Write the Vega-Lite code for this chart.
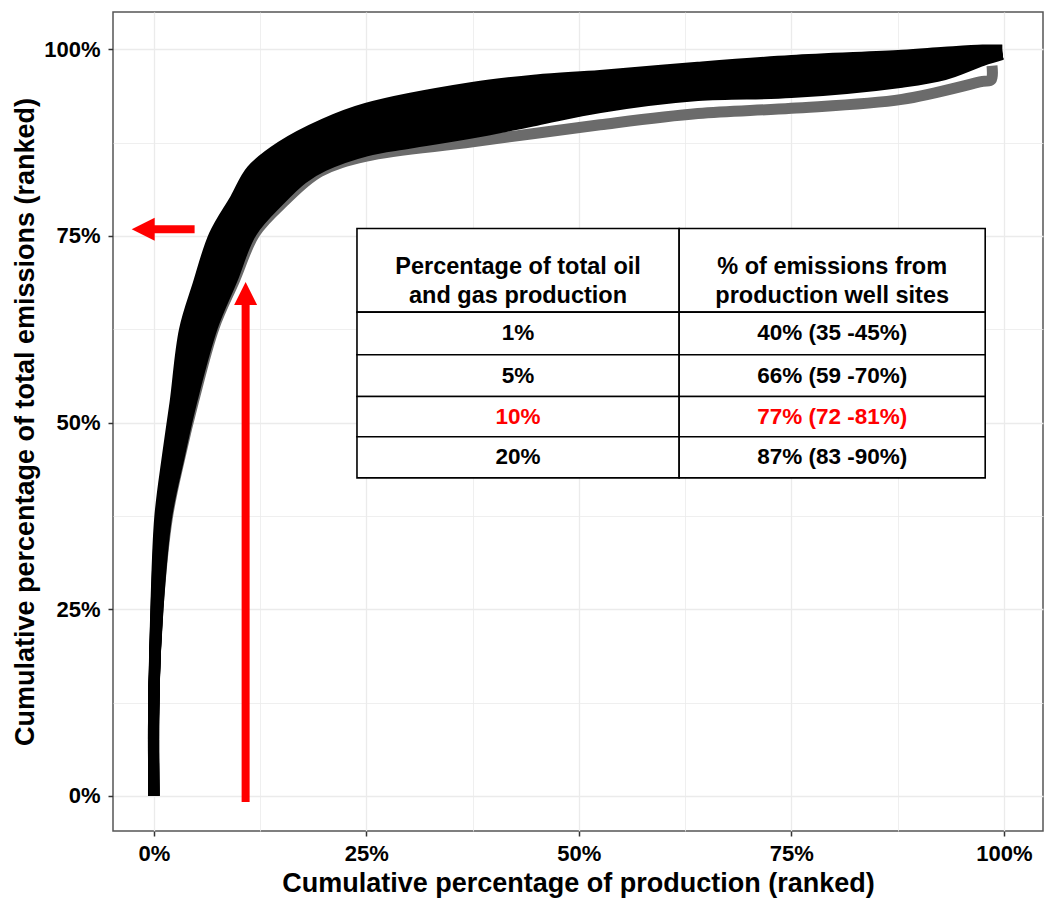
{
  "$schema": "https://vega.github.io/schema/vega-lite/v6.json",
  "width": 930,
  "height": 819,
  "autosize": {"type": "none"},
  "padding": {"left": 113, "top": 12, "right": 2, "bottom": 69},
  "background": "white",
  "config": {
    "view": {"stroke": "#555555", "strokeWidth": 1.5},
    "font": "Liberation Sans"
  },
  "datasets": {
    "curves": [
      {"c": "G", "x": 0, "y": 0}, {"c": "G", "x": 0, "y": 12.9}, {"c": "G", "x": 0.5, "y": 25.2}, {"c": "G", "x": 1.6, "y": 37.3}, {"c": "G", "x": 3.1, "y": 45.5}, {"c": "G", "x": 4.7, "y": 53}, {"c": "G", "x": 7.1, "y": 62.8}, {"c": "G", "x": 9.5, "y": 69.1}, {"c": "G", "x": 11.9, "y": 75.4}, {"c": "G", "x": 15.3, "y": 79.6}, {"c": "G", "x": 19.5, "y": 83.6}, {"c": "G", "x": 25, "y": 85.7}, {"c": "G", "x": 37.5, "y": 87.6}, {"c": "G", "x": 52.5, "y": 89.9}, {"c": "G", "x": 64, "y": 91.4}, {"c": "G", "x": 75, "y": 92.1}, {"c": "G", "x": 88, "y": 93.3}, {"c": "G", "x": 97.5, "y": 95.7}, {"c": "G", "x": 98.5, "y": 95.9}, {"c": "G", "x": 98.6, "y": 97.8},

      {"c": "U", "x": 0, "y": 0}, {"c": "U", "x": 0, "y": 12.9}, {"c": "U", "x": 0.24, "y": 25.2}, {"c": "U", "x": 0.7, "y": 37.3}, {"c": "U", "x": 1.6, "y": 45.5}, {"c": "U", "x": 2.5, "y": 52.7}, {"c": "U", "x": 3.6, "y": 62.4}, {"c": "U", "x": 5.2, "y": 68.5}, {"c": "U", "x": 7.1, "y": 75.1}, {"c": "U", "x": 9.6, "y": 80}, {"c": "U", "x": 11.5, "y": 83.8}, {"c": "U", "x": 15, "y": 87}, {"c": "U", "x": 20, "y": 90}, {"c": "U", "x": 25, "y": 92.1}, {"c": "U", "x": 37.5, "y": 94.9}, {"c": "U", "x": 45, "y": 95.9}, {"c": "U", "x": 52.5, "y": 96.5}, {"c": "U", "x": 64, "y": 97.6}, {"c": "U", "x": 75, "y": 98.5}, {"c": "U", "x": 88, "y": 99.2}, {"c": "U", "x": 93, "y": 99.6}, {"c": "U", "x": 97.5, "y": 99.9}, {"c": "U", "x": 99.8, "y": 99.9},

      {"c": "N1", "x": 0, "y": 0}, {"c": "N1", "x": 0, "y": 12.9}, {"c": "N1", "x": 0.27, "y": 25.2}, {"c": "N1", "x": 0.8, "y": 37.3}, {"c": "N1", "x": 1.78, "y": 45.5}, {"c": "N1", "x": 2.75, "y": 52.74}, {"c": "N1", "x": 4.01, "y": 62.45}, {"c": "N1", "x": 5.7, "y": 68.58}, {"c": "N1", "x": 7.65, "y": 75.15}, {"c": "N1", "x": 10.25, "y": 79.98}, {"c": "N1", "x": 12.25, "y": 83.66}, {"c": "N1", "x": 15.63, "y": 86.68}, {"c": "N1", "x": 20.63, "y": 89.55}, {"c": "N1", "x": 25.63, "y": 91.51}, {"c": "N1", "x": 37.5, "y": 94.14}, {"c": "N1", "x": 45, "y": 95.23}, {"c": "N1", "x": 52.5, "y": 95.96}, {"c": "N1", "x": 64, "y": 97.13}, {"c": "N1", "x": 75, "y": 97.96}, {"c": "N1", "x": 88, "y": 98.75}, {"c": "N1", "x": 93, "y": 99.23}, {"c": "N1", "x": 97.5, "y": 99.73}, {"c": "N1", "x": 99.8, "y": 99.83},

      {"c": "M1", "x": 0, "y": 0}, {"c": "M1", "x": 0, "y": 12.9}, {"c": "M1", "x": 0.31, "y": 25.2}, {"c": "M1", "x": 0.9, "y": 37.3}, {"c": "M1", "x": 1.95, "y": 45.5}, {"c": "M1", "x": 3.0, "y": 52.8}, {"c": "M1", "x": 4.4, "y": 62.5}, {"c": "M1", "x": 6.2, "y": 68.65}, {"c": "M1", "x": 8.2, "y": 75.2}, {"c": "M1", "x": 10.9, "y": 79.95}, {"c": "M1", "x": 13.0, "y": 83.5}, {"c": "M1", "x": 16.25, "y": 86.35}, {"c": "M1", "x": 21.25, "y": 89.1}, {"c": "M1", "x": 26.25, "y": 90.9}, {"c": "M1", "x": 37.5, "y": 93.4}, {"c": "M1", "x": 45, "y": 94.55}, {"c": "M1", "x": 52.5, "y": 95.4}, {"c": "M1", "x": 64, "y": 96.65}, {"c": "M1", "x": 75, "y": 97.4}, {"c": "M1", "x": 88, "y": 98.3}, {"c": "M1", "x": 93, "y": 98.85}, {"c": "M1", "x": 97.5, "y": 99.55}, {"c": "M1", "x": 99.8, "y": 99.75},

      {"c": "N2", "x": 0, "y": 0}, {"c": "N2", "x": 0, "y": 12.9}, {"c": "N2", "x": 0.34, "y": 25.2}, {"c": "N2", "x": 1.0, "y": 37.3}, {"c": "N2", "x": 2.13, "y": 45.5}, {"c": "N2", "x": 3.25, "y": 52.81}, {"c": "N2", "x": 4.84, "y": 62.55}, {"c": "N2", "x": 6.7, "y": 68.73}, {"c": "N2", "x": 8.75, "y": 75.25}, {"c": "N2", "x": 11.55, "y": 79.93}, {"c": "N2", "x": 13.75, "y": 83.39}, {"c": "N2", "x": 16.88, "y": 86.03}, {"c": "N2", "x": 21.88, "y": 88.65}, {"c": "N2", "x": 26.88, "y": 90.34}, {"c": "N2", "x": 37.5, "y": 92.61}, {"c": "N2", "x": 45, "y": 93.88}, {"c": "N2", "x": 52.5, "y": 94.89}, {"c": "N2", "x": 64, "y": 96.18}, {"c": "N2", "x": 75, "y": 96.89}, {"c": "N2", "x": 88, "y": 97.85}, {"c": "N2", "x": 93, "y": 98.48}, {"c": "N2", "x": 97.5, "y": 99.38}, {"c": "N2", "x": 99.8, "y": 99.68},

      {"c": "M2", "x": 0, "y": 0}, {"c": "M2", "x": 0, "y": 12.9}, {"c": "M2", "x": 0.37, "y": 25.2}, {"c": "M2", "x": 1.1, "y": 37.3}, {"c": "M2", "x": 2.3, "y": 45.5}, {"c": "M2", "x": 3.5, "y": 52.85}, {"c": "M2", "x": 5.25, "y": 62.6}, {"c": "M2", "x": 7.2, "y": 68.8}, {"c": "M2", "x": 9.3, "y": 75.3}, {"c": "M2", "x": 12.2, "y": 79.9}, {"c": "M2", "x": 14.5, "y": 83.25}, {"c": "M2", "x": 17.5, "y": 85.7}, {"c": "M2", "x": 22.5, "y": 88.2}, {"c": "M2", "x": 27.5, "y": 89.75}, {"c": "M2", "x": 37.5, "y": 91.85}, {"c": "M2", "x": 45, "y": 93.2}, {"c": "M2", "x": 52.5, "y": 94.35}, {"c": "M2", "x": 64, "y": 95.7}, {"c": "M2", "x": 75, "y": 96.35}, {"c": "M2", "x": 88, "y": 97.4}, {"c": "M2", "x": 93, "y": 98.1}, {"c": "M2", "x": 97.5, "y": 99.2}, {"c": "M2", "x": 99.8, "y": 99.6},

      {"c": "N3", "x": 0, "y": 0}, {"c": "N3", "x": 0, "y": 12.9}, {"c": "N3", "x": 0.4, "y": 25.2}, {"c": "N3", "x": 1.2, "y": 37.3}, {"c": "N3", "x": 2.48, "y": 45.5}, {"c": "N3", "x": 3.75, "y": 52.89}, {"c": "N3", "x": 5.66, "y": 62.65}, {"c": "N3", "x": 7.7, "y": 68.88}, {"c": "N3", "x": 9.85, "y": 75.35}, {"c": "N3", "x": 12.85, "y": 79.88}, {"c": "N3", "x": 15.25, "y": 83.11}, {"c": "N3", "x": 18.13, "y": 85.38}, {"c": "N3", "x": 23.13, "y": 87.75}, {"c": "N3", "x": 28.13, "y": 89.16}, {"c": "N3", "x": 37.5, "y": 91.09}, {"c": "N3", "x": 45, "y": 92.53}, {"c": "N3", "x": 52.5, "y": 93.81}, {"c": "N3", "x": 64, "y": 95.23}, {"c": "N3", "x": 75, "y": 95.81}, {"c": "N3", "x": 88, "y": 96.95}, {"c": "N3", "x": 93, "y": 97.73}, {"c": "N3", "x": 97.5, "y": 99.03}, {"c": "N3", "x": 99.8, "y": 99.53},

      {"c": "M3", "x": 0, "y": 0}, {"c": "M3", "x": 0, "y": 12.9}, {"c": "M3", "x": 0.44, "y": 25.2}, {"c": "M3", "x": 1.3, "y": 37.3}, {"c": "M3", "x": 2.65, "y": 45.5}, {"c": "M3", "x": 4.0, "y": 52.9}, {"c": "M3", "x": 6.1, "y": 62.7}, {"c": "M3", "x": 8.2, "y": 68.95}, {"c": "M3", "x": 10.4, "y": 75.4}, {"c": "M3", "x": 13.5, "y": 79.85}, {"c": "M3", "x": 16.0, "y": 83.0}, {"c": "M3", "x": 18.75, "y": 85.05}, {"c": "M3", "x": 23.75, "y": 87.3}, {"c": "M3", "x": 28.75, "y": 88.6}, {"c": "M3", "x": 37.5, "y": 90.3}, {"c": "M3", "x": 45, "y": 91.85}, {"c": "M3", "x": 52.5, "y": 93.3}, {"c": "M3", "x": 64, "y": 94.75}, {"c": "M3", "x": 75, "y": 95.3}, {"c": "M3", "x": 88, "y": 96.5}, {"c": "M3", "x": 93, "y": 97.35}, {"c": "M3", "x": 97.5, "y": 98.85}, {"c": "M3", "x": 99.8, "y": 99.45},

      {"c": "N4", "x": 0, "y": 0}, {"c": "N4", "x": 0, "y": 12.9}, {"c": "N4", "x": 0.47, "y": 25.2}, {"c": "N4", "x": 1.4, "y": 37.3}, {"c": "N4", "x": 2.83, "y": 45.5}, {"c": "N4", "x": 4.25, "y": 52.96}, {"c": "N4", "x": 6.49, "y": 62.75}, {"c": "N4", "x": 8.7, "y": 69.03}, {"c": "N4", "x": 10.95, "y": 75.45}, {"c": "N4", "x": 14.15, "y": 79.83}, {"c": "N4", "x": 16.75, "y": 82.84}, {"c": "N4", "x": 19.38, "y": 84.73}, {"c": "N4", "x": 24.38, "y": 86.85}, {"c": "N4", "x": 29.38, "y": 87.99}, {"c": "N4", "x": 37.5, "y": 89.56}, {"c": "N4", "x": 45, "y": 91.18}, {"c": "N4", "x": 52.5, "y": 92.74}, {"c": "N4", "x": 64, "y": 94.28}, {"c": "N4", "x": 75, "y": 94.74}, {"c": "N4", "x": 88, "y": 96.05}, {"c": "N4", "x": 93, "y": 96.98}, {"c": "N4", "x": 97.5, "y": 98.68}, {"c": "N4", "x": 99.8, "y": 99.38},

      {"c": "L", "x": 0, "y": 0}, {"c": "L", "x": 0, "y": 12.9}, {"c": "L", "x": 0.5, "y": 25.2}, {"c": "L", "x": 1.5, "y": 37.3}, {"c": "L", "x": 3.0, "y": 45.5}, {"c": "L", "x": 4.5, "y": 53}, {"c": "L", "x": 6.9, "y": 62.8}, {"c": "L", "x": 9.2, "y": 69.1}, {"c": "L", "x": 11.5, "y": 75.5}, {"c": "L", "x": 14.8, "y": 79.8}, {"c": "L", "x": 17.5, "y": 82.7}, {"c": "L", "x": 20, "y": 84.4}, {"c": "L", "x": 25, "y": 86.4}, {"c": "L", "x": 30, "y": 87.4}, {"c": "L", "x": 37.5, "y": 88.8}, {"c": "L", "x": 45, "y": 90.5}, {"c": "L", "x": 52.5, "y": 92.2}, {"c": "L", "x": 64, "y": 93.8}, {"c": "L", "x": 75, "y": 94.2}, {"c": "L", "x": 88, "y": 95.6}, {"c": "L", "x": 93, "y": 96.6}, {"c": "L", "x": 97.5, "y": 98.5}, {"c": "L", "x": 99.8, "y": 99.3}
    ],
    "cells": [
      {"x1": 23.9, "x2": 61.8, "y1": 64.8, "y2": 76.0},
      {"x1": 61.8, "x2": 97.8, "y1": 64.8, "y2": 76.0},
      {"x1": 23.9, "x2": 61.8, "y1": 59.1, "y2": 64.8},
      {"x1": 61.8, "x2": 97.8, "y1": 59.1, "y2": 64.8},
      {"x1": 23.9, "x2": 61.8, "y1": 53.5, "y2": 59.1},
      {"x1": 61.8, "x2": 97.8, "y1": 53.5, "y2": 59.1},
      {"x1": 23.9, "x2": 61.8, "y1": 48.1, "y2": 53.5},
      {"x1": 61.8, "x2": 97.8, "y1": 48.1, "y2": 53.5},
      {"x1": 23.9, "x2": 61.8, "y1": 42.6, "y2": 48.1},
      {"x1": 61.8, "x2": 97.8, "y1": 42.6, "y2": 48.1}
    ],
    "texts": [
      {"row": "head", "x": 42.85, "y": 70.9, "label": "Percentage of total oil\nand gas production", "tone": "normal"},
      {"row": "head", "x": 79.8, "y": 70.9, "label": "% of emissions from\nproduction well sites", "tone": "normal"},
      {"row": "body", "x": 42.85, "y": 61.95, "label": "1%", "tone": "normal"},
      {"row": "body", "x": 79.8, "y": 61.95, "label": "40% (35 -45%)", "tone": "normal"},
      {"row": "body", "x": 42.85, "y": 56.3, "label": "5%", "tone": "normal"},
      {"row": "body", "x": 79.8, "y": 56.3, "label": "66% (59 -70%)", "tone": "normal"},
      {"row": "body", "x": 42.85, "y": 50.8, "label": "10%", "tone": "highlight"},
      {"row": "body", "x": 79.8, "y": 50.8, "label": "77% (72 -81%)", "tone": "highlight"},
      {"row": "body", "x": 42.85, "y": 45.35, "label": "20%", "tone": "normal"},
      {"row": "body", "x": 79.8, "y": 45.35, "label": "87% (83 -90%)", "tone": "normal"}
    ],
    "shafts": [
      {"x": -1.25, "x2": 4.8, "y": 75.9, "y2": 75.9},
      {"x": 10.8, "x2": 10.8, "y": -0.8, "y2": 67.3}
    ],
    "heads": [
      {"x": -1.25, "y": 75.9, "dir": "left"},
      {"x": 10.8, "y": 67.3, "dir": "up"}
    ]
  },
  "layer": [
    {
      "data": {"name": "curves"},
      "transform": [{"filter": "datum.c === 'G'"}],
      "mark": {"type": "line", "stroke": "#6b6b6b", "strokeWidth": 11, "strokeCap": "butt", "strokeJoin": "round", "interpolate": "catmull-rom"},
      "encoding": {
        "x": {
          "field": "x", "type": "quantitative",
          "scale": {"domain": [-4.8, 104.6], "nice": false, "zero": false},
          "axis": {
            "title": "Cumulative percentage of production (ranked)",
            "values": [0, 12.5, 25, 37.5, 50, 62.5, 75, 87.5, 100],
            "labelExpr": "datum.value % 25 === 0 ? datum.value + '%' : ''",
            "domain": false,
            "grid": true,
            "gridColor": "#ebebeb",
            "gridWidth": {"condition": {"test": "datum.value % 25 !== 0", "value": 0.8}, "value": 1.3},
            "ticks": true,
            "tickColor": "#333333",
            "tickSize": 5,
            "tickWidth": 1.5,
            "tickOpacity": {"condition": {"test": "datum.value % 25 !== 0", "value": 0}, "value": 1},
            "labelFont": "Liberation Sans",
            "labelFontSize": 22,
            "labelFontWeight": "bold",
            "labelColor": "#000000",
            "labelPadding": 7,
            "labelFlush": false,
            "labelOverlap": false,
            "titleFont": "Liberation Sans",
            "titleFontSize": 27,
            "titleFontWeight": "bold",
            "titleColor": "#000000",
            "titlePadding": 6
          }
        },
        "y": {
          "field": "y", "type": "quantitative",
          "scale": {"domain": [-4.7, 105], "nice": false, "zero": false},
          "axis": {
            "title": "Cumulative percentage of total emissions (ranked)",
            "values": [0, 12.5, 25, 37.5, 50, 62.5, 75, 87.5, 100],
            "labelExpr": "datum.value % 25 === 0 ? datum.value + '%' : ''",
            "domain": false,
            "grid": true,
            "gridColor": "#ebebeb",
            "gridWidth": {"condition": {"test": "datum.value % 25 !== 0", "value": 0.8}, "value": 1.3},
            "ticks": true,
            "tickColor": "#333333",
            "tickSize": 5,
            "tickWidth": 1.5,
            "tickOpacity": {"condition": {"test": "datum.value % 25 !== 0", "value": 0}, "value": 1},
            "labelFont": "Liberation Sans",
            "labelFontSize": 22,
            "labelFontWeight": "bold",
            "labelColor": "#000000",
            "labelPadding": 8,
            "labelFlush": false,
            "labelOverlap": false,
            "titleFont": "Liberation Sans",
            "titleFontSize": 27,
            "titleFontWeight": "bold",
            "titleColor": "#000000",
            "titlePadding": 4
          }
        }
      }
    },
    {
      "data": {"name": "curves"},
      "transform": [{"filter": "datum.c !== 'G'"}],
      "mark": {"type": "line", "stroke": "#000000", "strokeWidth": 11, "strokeCap": "butt", "strokeJoin": "round", "interpolate": "catmull-rom"},
      "encoding": {
        "x": {"field": "x", "type": "quantitative", "scale": {"domain": [-4.8, 104.6], "nice": false, "zero": false}},
        "y": {"field": "y", "type": "quantitative", "scale": {"domain": [-4.7, 105], "nice": false, "zero": false}},
        "detail": {"field": "c", "type": "nominal"}
      }
    },
    {
      "data": {"name": "cells"},
      "mark": {"type": "rect", "fill": "#ffffff", "stroke": "#000000", "strokeWidth": 1.6},
      "encoding": {
        "x": {"field": "x1", "type": "quantitative"},
        "x2": {"field": "x2"},
        "y": {"field": "y1", "type": "quantitative"},
        "y2": {"field": "y2"}
      }
    },
    {
      "data": {"name": "texts"},
      "transform": [{"filter": "datum.row === 'head'"}],
      "mark": {"type": "text", "font": "Liberation Sans", "fontSize": 23.5, "fontWeight": "bold", "align": "center", "baseline": "middle", "lineBreak": "\n", "lineHeight": 29},
      "encoding": {
        "x": {"field": "x", "type": "quantitative"},
        "y": {"field": "y", "type": "quantitative"},
        "text": {"field": "label", "type": "nominal"},
        "color": {"field": "tone", "type": "nominal", "scale": {"domain": ["normal", "highlight"], "range": ["#000000", "#ff0000"]}, "legend": null}
      }
    },
    {
      "data": {"name": "texts"},
      "transform": [{"filter": "datum.row === 'body'"}],
      "mark": {"type": "text", "font": "Liberation Sans", "fontSize": 22.5, "fontWeight": "bold", "align": "center", "baseline": "middle"},
      "encoding": {
        "x": {"field": "x", "type": "quantitative"},
        "y": {"field": "y", "type": "quantitative"},
        "text": {"field": "label", "type": "nominal"},
        "color": {"field": "tone", "type": "nominal", "scale": {"domain": ["normal", "highlight"], "range": ["#000000", "#ff0000"]}, "legend": null}
      }
    },
    {
      "data": {"name": "shafts"},
      "mark": {"type": "rule", "stroke": "#ff0000", "strokeWidth": 8, "strokeCap": "butt"},
      "encoding": {
        "x": {"field": "x", "type": "quantitative"},
        "x2": {"field": "x2"},
        "y": {"field": "y", "type": "quantitative"},
        "y2": {"field": "y2"}
      }
    },
    {
      "data": {"name": "heads"},
      "mark": {"type": "point", "filled": true, "fill": "#ff0000", "strokeWidth": 0, "size": 529, "opacity": 1},
      "encoding": {
        "x": {"field": "x", "type": "quantitative"},
        "y": {"field": "y", "type": "quantitative"},
        "shape": {"field": "dir", "type": "nominal", "scale": {"domain": ["left", "up"], "range": ["M-1,0L1,-1L1,1Z", "M0,-1L1,1L-1,1Z"]}, "legend": null}
      }
    }
  ]
}
